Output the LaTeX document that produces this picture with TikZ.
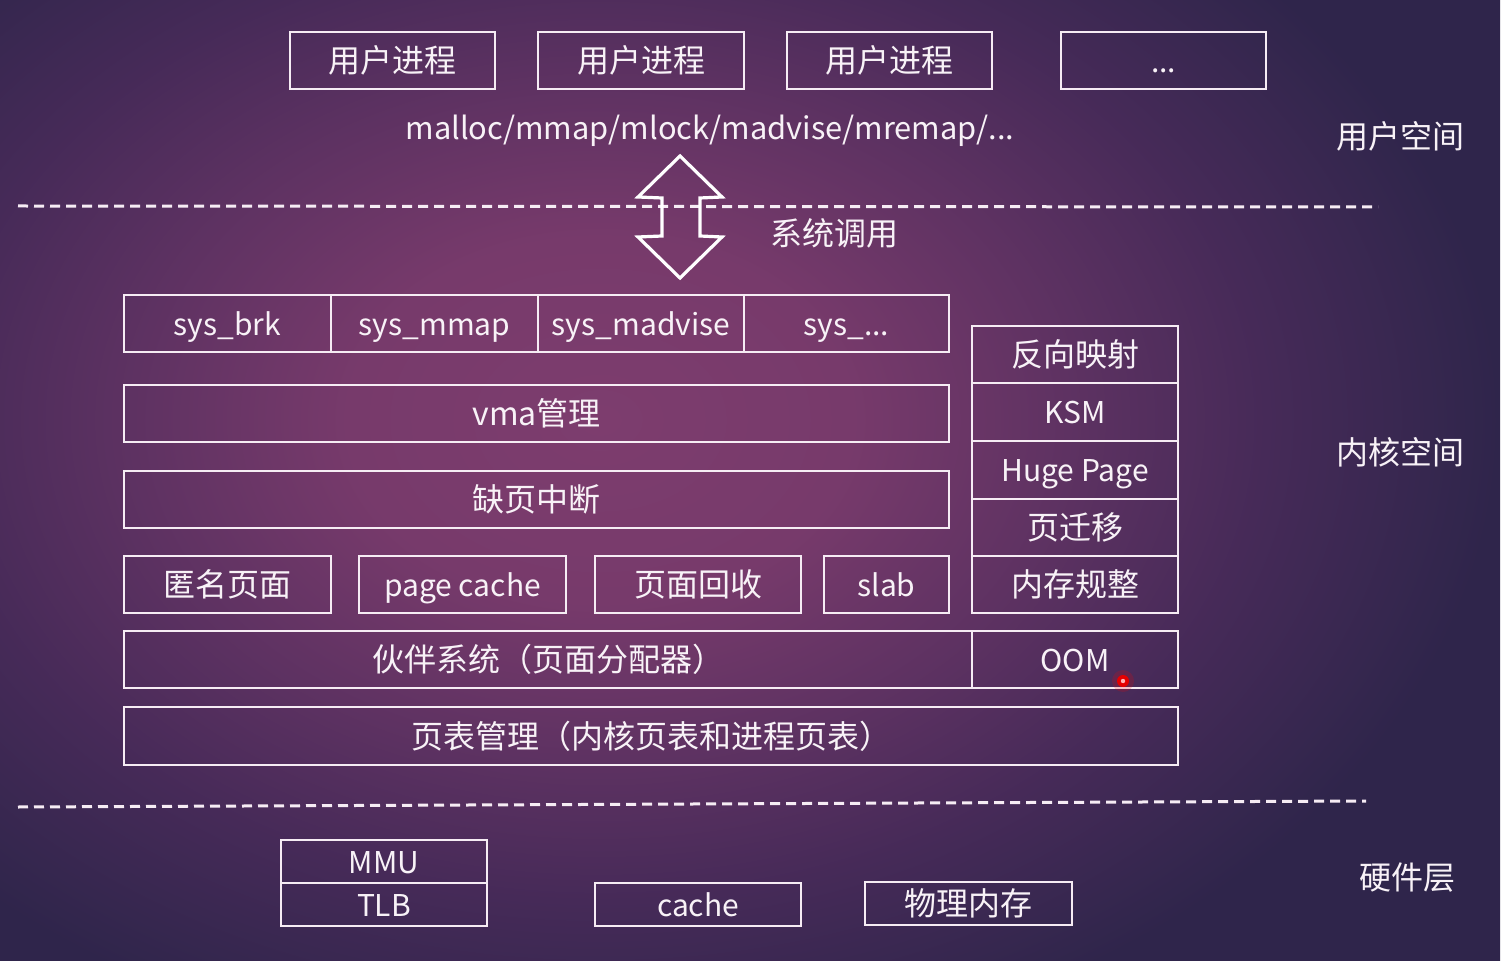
\documentclass[tikz,border=0pt]{standalone}
\usepackage{fontspec}
\setmainfont{Noto Sans CJK SC}
\definecolor{bgA}{HTML}{7D3D6E}
\definecolor{bgB}{HTML}{773A6B}
\definecolor{bgC}{HTML}{5E3262}
\definecolor{bgD}{HTML}{462A58}
\definecolor{bgE}{HTML}{36274F}
\definecolor{bgF}{HTML}{2F254B}
\definecolor{ln}{HTML}{F6ECF4}
\definecolor{tx}{HTML}{F8F2F7}
\pgfdeclareradialshading{bgshade}{\pgfpoint{0bp}{0bp}}{color(0bp)=(bgA); color(7bp)=(bgB); color(13bp)=(bgC); color(18.5bp)=(bgD); color(23bp)=(bgE); color(25bp)=(bgF); color(50bp)=(bgF)}
\tikzset{
  bx/.style={draw=ln, line width=1.2pt, text=tx, font=\fontsize{16}{18}\selectfont, inner sep=0pt, anchor=center, text height=13pt, text depth=1pt},
  lat/.style={font=\fontsize{15}{18}\selectfont},
  lbl/.style={text=tx, font=\fontsize{16}{18}\selectfont, inner sep=0pt},
  sep/.style={draw=ln, line width=1.5pt, dash pattern=on 5pt off 3pt},
  arr/.style={draw=white, line width=1.6pt, line join=miter}
}
\newcommand\bx[7][]{\node[bx, #1, minimum width={(#5-#3)*0.5pt}, minimum height={(#6-#4)*0.5pt}] (#2) at ({(#3+#5)/2},{(#4+#6)/2}) {#7};}
\begin{document}
\begin{tikzpicture}[x=0.5pt,y=-0.5pt]
\useasboundingbox (0,0) rectangle (1502,961);
\begin{scope}
\clip (0,0) rectangle (1502,961);
\shade[shading=bgshade] (-300,-230) rectangle (1500,1070);
\end{scope}
% user space
\bx{u1}{290}{32}{495}{89}{用户进程}
\bx{u2}{538}{32}{744}{89}{用户进程}
\bx{u3}{787}{32}{992}{89}{用户进程}
\bx[lat]{u4}{1061}{32}{1266}{89}{...}
\node[lbl, font=\fontsize{15.4}{18}\selectfont] (calls) at (710,131) {malloc/mmap/mlock/madvise/mremap/...};
\node[lbl] (us) at (1400,136) {用户空间};
\node[lbl] (ks) at (1400,452) {内核空间};
\node[lbl] (hw) at (1407,878) {硬件层};
% separators
\coordinate (d1a) at (18,206); \coordinate (d1b) at (1378,207);
\coordinate (d2a) at (18,807); \coordinate (d2b) at (1366,801);
\draw[sep] (d1a) -- (d1b);
\draw[sep] (d2a) -- (d2b);
% double arrow
\draw[arr] (680,156) -- (722,197) -- (700,198) -- (700,236) -- (722,237) -- (680,278) -- (638,237) -- (662,236) -- (662,198) -- (638,197) -- cycle;
\node[lbl] (sc) at (834,233) {系统调用};
% kernel
\bx[lat]{s1}{124}{295}{331}{352}{sys\_brk}
\bx[lat]{s2}{331}{295}{538}{352}{sys\_mmap}
\bx[lat]{s3}{538}{295}{744}{352}{sys\_madvise}
\bx[lat]{s4}{744}{295}{949}{352}{sys\_...}
\bx{vma}{124}{385}{949}{442}{vma管理}
\bx{pf}{124}{471}{949}{528}{缺页中断}
\bx{anon}{124}{556}{331}{613}{匿名页面}
\bx[lat]{pc}{359}{556}{566}{613}{page cache}
\bx{rec}{595}{556}{801}{613}{页面回收}
\bx[lat]{slab}{824}{556}{949}{613}{slab}
\bx{r1}{972}{326}{1178}{383}{反向映射}
\bx[lat]{r2}{972}{383}{1178}{441}{KSM}
\bx[lat]{r3}{972}{441}{1178}{499}{Huge Page}
\bx{r4}{972}{499}{1178}{556}{页迁移}
\bx{r5}{972}{556}{1178}{613}{内存规整}
\bx{buddy}{124}{631}{972}{688}{伙伴系统（页面分配器）}
\bx[lat]{oom}{972}{631}{1178}{688}{OOM}
\bx{pt}{124}{707}{1178}{765}{页表管理（内核页表和进程页表）}
% hardware
\bx[lat]{mmu}{281}{840}{487}{883}{MMU}
\bx[lat]{tlb}{281}{883}{487}{926}{TLB}
\bx[lat]{cache}{595}{883}{801}{926}{cache}
\bx{phys}{865}{882}{1072}{925}{物理内存}
% pointer dot
\fill[red, opacity=0.18] (1123,681) circle (11);
\fill[red!90!black] (1123,681) circle (6);
\fill[red!30!white] (1123,681) circle (2.2);
\end{tikzpicture}
\end{document}
